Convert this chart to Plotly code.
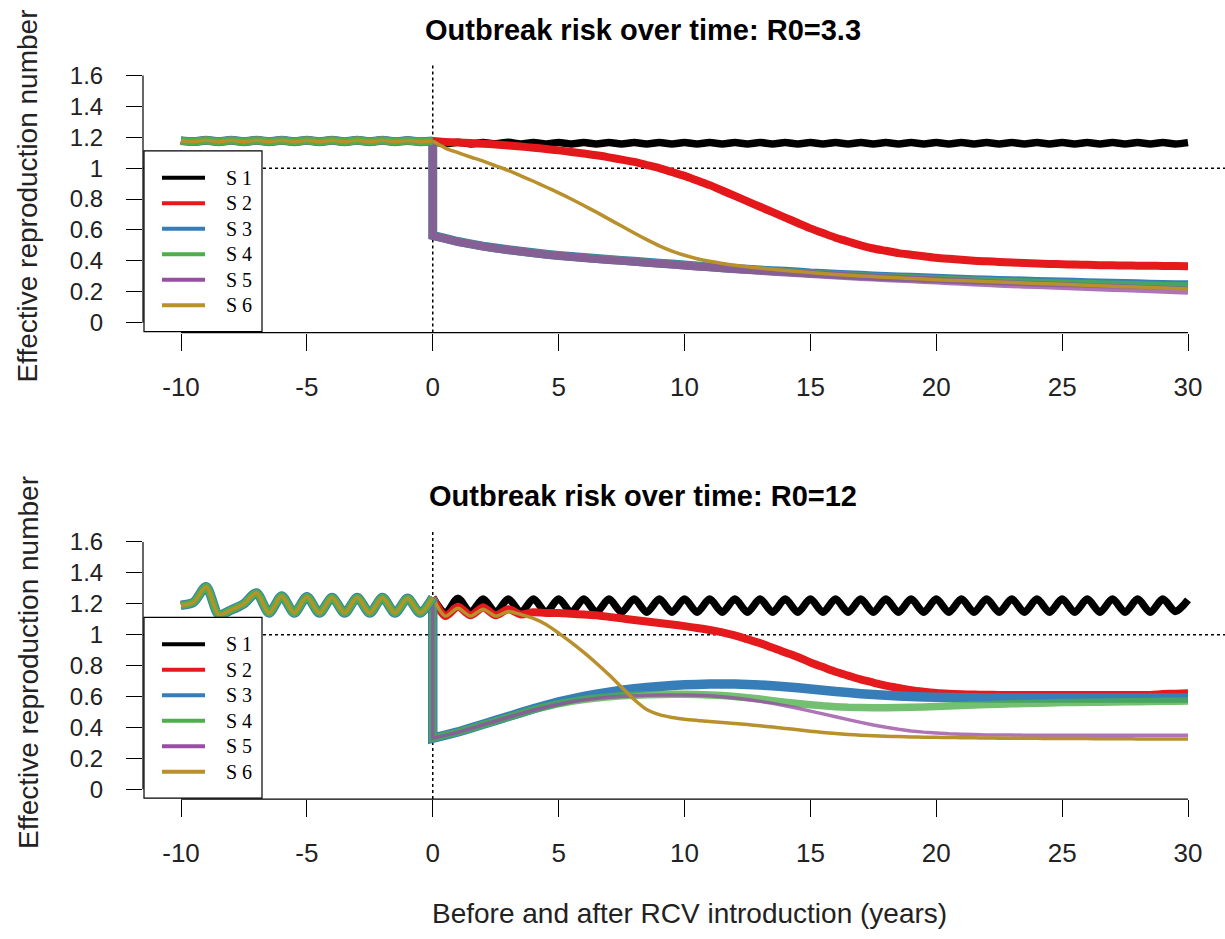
import plotly.graph_objects as go

# ---------------- data ----------------
T_PRE = [-10, -9.5, -9, -8.5, -8, -7.5, -7, -6.5, -6, -5.5, -5, -4.5, -4, -3.5, -3, -2.5, -2, -1.5, -1, -0.5, 0]
T_POST = [0.5, 1, 1.5, 2, 2.5, 3, 3.5, 4, 4.5, 5, 5.5, 6, 6.5, 7, 7.5, 8, 8.5, 9, 9.5, 10,
          10.5, 11, 11.5, 12, 12.5, 13, 13.5, 14, 14.5, 15, 15.5, 16, 16.5, 17, 17.5, 18, 18.5, 19, 19.5, 20,
          20.5, 21, 21.5, 22, 22.5, 23, 23.5, 24, 24.5, 25, 25.5, 26, 26.5, 27, 27.5, 28, 28.5, 29, 29.5, 30]

NAMES = ["S 1", "S 2", "S 3", "S 4", "S 5", "S 6"]
TITLES = ["Outbreak risk over time: R0=3.3", "Outbreak risk over time: R0=12"]
X_TICKS = [-10, -5, 0, 5, 10, 15, 20, 25, 30]
X_TICK_TEXT = ["-10", "-5", "0", "5", "10", "15", "20", "25", "30"]
Y_TICKS = [0, 0.2, 0.4, 0.6, 0.8, 1, 1.2, 1.4, 1.6]
Y_TICK_TEXT = ["0", "0.2", "0.4", "0.6", "0.8", "1", "1.2", "1.4", "1.6"]

# R0 = 3.3 panel
TOP_PRE = [1.178, 1.172, 1.180, 1.171, 1.180, 1.171, 1.180, 1.171, 1.180, 1.171, 1.180,
           1.171, 1.180, 1.171, 1.180, 1.171, 1.180, 1.171, 1.179, 1.171, 1.175]
TOP_S1 = [1.158, 1.167, 1.157, 1.166, 1.158, 1.167, 1.157, 1.166, 1.157, 1.166,
          1.157, 1.166, 1.157, 1.166, 1.157, 1.166, 1.157, 1.166, 1.157, 1.166,
          1.157, 1.166, 1.157, 1.166, 1.157, 1.166, 1.157, 1.166, 1.157, 1.166,
          1.157, 1.166, 1.157, 1.166, 1.157, 1.166, 1.157, 1.166, 1.157, 1.166,
          1.157, 1.166, 1.157, 1.166, 1.157, 1.166, 1.157, 1.166, 1.157, 1.166,
          1.157, 1.166, 1.157, 1.166, 1.157, 1.166, 1.157, 1.166, 1.157, 1.165]
TOP_S2 = [1.170, 1.166, 1.162, 1.158, 1.153, 1.147, 1.140, 1.132, 1.124, 1.115,
          1.105, 1.095, 1.083, 1.070, 1.055, 1.040, 1.020, 1.000, 0.975, 0.950,
          0.920, 0.890, 0.855, 0.820, 0.785, 0.750, 0.715, 0.680, 0.645, 0.610,
          0.580, 0.550, 0.525, 0.500, 0.480, 0.465, 0.450, 0.440, 0.430, 0.420,
          0.413, 0.407, 0.401, 0.397, 0.393, 0.389, 0.386, 0.383, 0.380, 0.378,
          0.376, 0.374, 0.372, 0.371, 0.370, 0.369, 0.368, 0.367, 0.366, 0.365]
TOP_DROP = [None, None, 0.565, 0.563, 0.562, None]
TOP_S3 = [0.545, 0.525, 0.510, 0.495, 0.483, 0.472, 0.462, 0.452, 0.443, 0.435,
          0.428, 0.421, 0.415, 0.409, 0.403, 0.397, 0.391, 0.385, 0.379, 0.373,
          0.367, 0.361, 0.355, 0.350, 0.345, 0.340, 0.336, 0.332, 0.328, 0.322,
          0.318, 0.314, 0.310, 0.306, 0.302, 0.299, 0.296, 0.293, 0.290, 0.287,
          0.284, 0.281, 0.278, 0.276, 0.273, 0.271, 0.269, 0.267, 0.265, 0.263,
          0.261, 0.259, 0.257, 0.255, 0.253, 0.251, 0.249, 0.247, 0.246, 0.245]
TOP_S4 = [0.544, 0.524, 0.509, 0.494, 0.482, 0.471, 0.461, 0.451, 0.442, 0.434,
          0.427, 0.420, 0.414, 0.408, 0.402, 0.396, 0.390, 0.384, 0.378, 0.372,
          0.366, 0.360, 0.354, 0.348, 0.343, 0.338, 0.333, 0.328, 0.323, 0.318,
          0.313, 0.309, 0.305, 0.301, 0.297, 0.293, 0.290, 0.287, 0.284, 0.281,
          0.278, 0.275, 0.272, 0.269, 0.266, 0.264, 0.262, 0.259, 0.257, 0.255,
          0.253, 0.251, 0.249, 0.247, 0.245, 0.243, 0.241, 0.239, 0.237, 0.235]
TOP_S5 = [0.543, 0.523, 0.508, 0.493, 0.481, 0.470, 0.460, 0.450, 0.441, 0.433,
          0.426, 0.419, 0.412, 0.406, 0.400, 0.394, 0.388, 0.382, 0.376, 0.370,
          0.364, 0.358, 0.352, 0.346, 0.340, 0.335, 0.330, 0.325, 0.320, 0.315,
          0.310, 0.305, 0.300, 0.296, 0.292, 0.288, 0.284, 0.280, 0.276, 0.272,
          0.268, 0.264, 0.260, 0.256, 0.252, 0.249, 0.246, 0.243, 0.240, 0.237,
          0.234, 0.231, 0.228, 0.225, 0.222, 0.219, 0.216, 0.213, 0.210, 0.207]
TOP_S6 = [1.130, 1.100, 1.072, 1.045, 1.015, 0.985, 0.950, 0.915, 0.878, 0.840,
          0.800, 0.758, 0.715, 0.670, 0.625, 0.580, 0.537, 0.497, 0.463, 0.436,
          0.414, 0.397, 0.383, 0.372, 0.362, 0.353, 0.345, 0.338, 0.331, 0.325,
          0.318, 0.312, 0.307, 0.302, 0.298, 0.294, 0.290, 0.286, 0.282, 0.278,
          0.275, 0.272, 0.269, 0.266, 0.263, 0.260, 0.257, 0.254, 0.251, 0.248,
          0.245, 0.242, 0.239, 0.236, 0.233, 0.230, 0.227, 0.224, 0.221, 0.218]

# R0 = 12 panel
BOT_PRE = [1.19, 1.21, 1.31, 1.13, 1.16, 1.20, 1.27, 1.14, 1.25, 1.14, 1.245,
           1.14, 1.24, 1.14, 1.24, 1.14, 1.24, 1.14, 1.235, 1.14, 1.24]
BOT_S1 = [1.14, 1.235, 1.145, 1.23, 1.145, 1.23, 1.145, 1.23, 1.145, 1.23,
          1.145, 1.23, 1.145, 1.23, 1.145, 1.23, 1.145, 1.23, 1.145, 1.23,
          1.145, 1.23, 1.145, 1.23, 1.145, 1.23, 1.145, 1.23, 1.145, 1.23,
          1.145, 1.23, 1.145, 1.23, 1.145, 1.23, 1.145, 1.23, 1.145, 1.23,
          1.145, 1.23, 1.145, 1.23, 1.145, 1.23, 1.145, 1.23, 1.145, 1.23,
          1.145, 1.23, 1.145, 1.23, 1.145, 1.23, 1.145, 1.23, 1.15, 1.225]
BOT_S2 = [1.12, 1.18, 1.125, 1.175, 1.125, 1.165, 1.13, 1.145, 1.14, 1.14,
          1.135, 1.13, 1.125, 1.115, 1.105, 1.095, 1.085, 1.075, 1.065, 1.055,
          1.043, 1.03, 1.015, 0.995, 0.97, 0.945, 0.915, 0.885, 0.855, 0.82,
          0.79, 0.76, 0.735, 0.71, 0.69, 0.67, 0.655, 0.64, 0.63, 0.622,
          0.617, 0.614, 0.612, 0.611, 0.61, 0.61, 0.61, 0.61, 0.61, 0.61,
          0.61, 0.61, 0.61, 0.61, 0.61, 0.61, 0.61, 0.615, 0.618, 0.62]
BOT_DROP = [None, None, 0.33, 0.33, 0.33, None]
BOT_S3 = [0.35, 0.37, 0.395, 0.42, 0.445, 0.47, 0.495, 0.52, 0.543, 0.565,
          0.583, 0.6, 0.615, 0.628, 0.64, 0.65, 0.658, 0.665, 0.67, 0.675,
          0.678, 0.68, 0.681, 0.68, 0.678, 0.674, 0.669, 0.663, 0.656, 0.648,
          0.64, 0.632, 0.625, 0.618, 0.612, 0.607, 0.603, 0.6, 0.597, 0.595,
          0.593, 0.592, 0.591, 0.59, 0.59, 0.59, 0.59, 0.59, 0.59, 0.59,
          0.59, 0.59, 0.59, 0.59, 0.59, 0.59, 0.59, 0.59, 0.59, 0.59]
BOT_S4 = [0.349, 0.369, 0.393, 0.418, 0.442, 0.466, 0.49, 0.515, 0.535, 0.553,
          0.568, 0.58, 0.59, 0.598, 0.604, 0.608, 0.611, 0.613, 0.614, 0.614,
          0.613, 0.61, 0.606, 0.6, 0.592, 0.583, 0.573, 0.563, 0.554, 0.546,
          0.539, 0.534, 0.53, 0.528, 0.527, 0.527, 0.528, 0.53, 0.532, 0.535,
          0.538, 0.541, 0.544, 0.547, 0.55, 0.552, 0.554, 0.556, 0.558, 0.56,
          0.561, 0.562, 0.563, 0.564, 0.565, 0.566, 0.567, 0.568, 0.569, 0.57]
BOT_S5 = [0.348, 0.368, 0.392, 0.417, 0.441, 0.465, 0.489, 0.512, 0.532, 0.55,
          0.565, 0.577, 0.587, 0.595, 0.6, 0.604, 0.607, 0.609, 0.61, 0.61,
          0.608, 0.604, 0.598, 0.59, 0.58, 0.568, 0.555, 0.54, 0.523, 0.505,
          0.487, 0.468, 0.45, 0.432, 0.415, 0.4, 0.387, 0.377, 0.369, 0.363,
          0.358, 0.355, 0.353, 0.351, 0.35, 0.35, 0.349, 0.349, 0.349, 0.349,
          0.349, 0.348, 0.348, 0.348, 0.348, 0.348, 0.348, 0.348, 0.348, 0.348]
BOT_S6 = [1.12, 1.17, 1.12, 1.165, 1.12, 1.15, 1.13, 1.105, 1.065, 1.01,
          0.95, 0.885, 0.815, 0.74, 0.66, 0.58, 0.515, 0.482, 0.464, 0.453,
          0.445, 0.438, 0.432, 0.425, 0.418, 0.41, 0.402, 0.393, 0.384, 0.375,
          0.367, 0.36, 0.354, 0.349, 0.345, 0.342, 0.34, 0.338, 0.336, 0.335,
          0.334, 0.333, 0.332, 0.331, 0.33, 0.33, 0.329, 0.329, 0.328, 0.328,
          0.327, 0.327, 0.326, 0.326, 0.326, 0.325, 0.325, 0.325, 0.325, 0.325]

# ---------------- styles ----------------
COLORS = ["#000000", "#E41A1C", "#377EB8", "#4DAF4A", "#984EA3", "#B8902C"]
TOP_WIDTHS = [7.5, 8, 9, 8, 8, 3.5]
BOT_WIDTHS = [7.5, 8, 9.5, 7.5, 3.5, 3.5]
POST_OPACITY = [1, 1, 1, 0.78, 0.78, 1]
PRE_ORDER = [0, 1, 2, 4, 3, 5]
W, H = 1225, 939
SANS = "Liberation Sans, Arial, sans-serif"
SERIF = "Liberation Serif, Times New Roman, serif"

PANELS = [
    dict(pre=TOP_PRE, posts=[TOP_S1, TOP_S2, TOP_S3, TOP_S4, TOP_S5, TOP_S6], drops=TOP_DROP,
         widths=TOP_WIDTHS, title=TITLES[0]),
    dict(pre=BOT_PRE, posts=[BOT_S1, BOT_S2, BOT_S3, BOT_S4, BOT_S5, BOT_S6], drops=BOT_DROP,
         widths=BOT_WIDTHS, title=TITLES[1]),
]

for p in PANELS:
    assert len(p["pre"]) == len(T_PRE)
    for s in p["posts"]:
        assert len(s) == len(T_POST), len(s)


def px(x):
    return x / W


def py(y):
    return 1 - y / H


X_LEFT_PX = 143
X_PER_UNIT = (1188 - 181) / 40.0
X_RANGE = [-10 - (181 - X_LEFT_PX) / X_PER_UNIT, -10 + (W - 181) / X_PER_UNIT]

fig = go.Figure()
shapes = []
annotations = []

for i, p in enumerate(PANELS):
    xa = "x" if i == 0 else "x2"
    ya = "y" if i == 0 else "y2"
    # after introduction (starts at t=0, including the drop for S3-S5)
    for k in range(6):
        xs = [T_PRE[-1]]
        ys = [p["pre"][-1]]
        has_drop = p["drops"][k] is not None
        if has_drop:
            xs.append(0)
            ys.append(p["drops"][k])
        xs += T_POST
        ys += p["posts"][k]
        fig.add_trace(go.Scatter(x=xs, y=ys, mode="lines", name=NAMES[k], xaxis=xa, yaxis=ya,
                                 opacity=POST_OPACITY[k],
                                 line=dict(color=COLORS[k], width=p["widths"][k], simplify=False,
                                           shape="linear" if has_drop else "spline", smoothing=0.8),
                                 showlegend=False, hoverinfo="skip"))
    # before introduction (identical for all scenarios)
    for k in PRE_ORDER:
        fig.add_trace(go.Scatter(x=T_PRE, y=p["pre"], mode="lines", name=NAMES[k], xaxis=xa, yaxis=ya,
                                 line=dict(color=COLORS[k], width=p["widths"][k], simplify=False,
                                           shape="spline", smoothing=0.8),
                                 showlegend=False, hoverinfo="skip"))
    # reference lines
    shapes.append(dict(type="line", xref=xa, yref=f"{ya} domain", x0=0, x1=0, y0=0, y1=1,
                       line=dict(color="black", width=1.5, dash="dot"), layer="below"))
    shapes.append(dict(type="line", xref=f"{xa} domain", yref=ya, x0=0, x1=1, y0=1, y1=1,
                       line=dict(color="black", width=1.5, dash="dot"), layer="below"))
    # axis lines (R style: span first to last tick)
    shapes.append(dict(type="line", xref=xa, yref=f"{ya} domain", x0=X_TICKS[0], x1=X_TICKS[-1], y0=0, y1=0,
                       line=dict(color="black", width=1.2), layer="above"))
    shapes.append(dict(type="line", xref=f"{xa} domain", yref=ya, x0=0, x1=0, y0=Y_TICKS[0], y1=Y_TICKS[-1],
                       line=dict(color="black", width=1.2), layer="above"))
    # legend box
    off = 0 if i == 0 else 470
    bx0, bx1, by0, by1 = 144, 262, 148 + off, 330 + off
    shapes.append(dict(type="rect", xref="paper", yref="paper", x0=px(bx0), x1=px(bx1), y0=py(by1), y1=py(by0),
                       fillcolor="white", line=dict(color="black", width=1.2), layer="above"))
    for k in range(6):
        yy = 175 + off + k * 25.7
        shapes.append(dict(type="line", xref="paper", yref="paper", x0=px(162), x1=px(205), y0=py(yy), y1=py(yy),
                           line=dict(color=COLORS[k], width=4), layer="above"))
        annotations.append(dict(text=NAMES[k], xref="paper", yref="paper", x=px(224), y=py(yy),
                                xanchor="left", yanchor="middle", showarrow=False,
                                font=dict(family=SERIF, size=20, color="black")))
    # titles
    annotations.append(dict(text="<b>" + p["title"] + "</b>", xref="paper", yref="paper", x=px(643), y=py(26 + off),
                            xanchor="center", yanchor="middle", showarrow=False,
                            font=dict(family=SANS, size=29, color="black")))
    annotations.append(dict(text="Effective reproduction number", xref="paper", yref="paper", x=px(28),
                            y=py(194 + off), xanchor="center", yanchor="middle", textangle=-90, showarrow=False,
                            font=dict(family=SANS, size=28, color="#222222")))

annotations.append(dict(text="Before and after RCV introduction (years)", xref="paper", yref="paper",
                        x=px(689), y=py(916), xanchor="center", yanchor="middle", showarrow=False,
                        font=dict(family=SANS, size=28, color="#222222")))

xaxis_common = dict(range=X_RANGE, domain=[px(X_LEFT_PX), 1.0], tickmode="array", tickvals=X_TICKS,
                    ticktext=X_TICK_TEXT,
                    ticks="outside", ticklen=17, tickwidth=1.2, tickcolor="black", showgrid=False,
                    zeroline=False, showline=False, ticklabelstandoff=14,
                    tickfont=dict(family=SANS, size=26, color="#222222"), fixedrange=True)
yaxis_common = dict(range=[-0.064, 1.664], tickmode="array", tickvals=Y_TICKS, ticktext=Y_TICK_TEXT,
                    ticks="outside", ticklen=16, tickwidth=1.2, tickcolor="black", showgrid=False,
                    zeroline=False, showline=False, ticklabelstandoff=18,
                    tickfont=dict(family=SANS, size=24, color="#222222"), fixedrange=True)

fig.update_layout(
    width=W, height=H, margin=dict(l=0, r=0, t=0, b=0),
    paper_bgcolor="white", plot_bgcolor="white", showlegend=False,
    xaxis=dict(xaxis_common, anchor="y"),
    xaxis2=dict(xaxis_common, anchor="y2"),
    yaxis=dict(yaxis_common, anchor="x", domain=[py(331), py(62)]),
    yaxis2=dict(yaxis_common, anchor="x2", domain=[py(801), py(532)]),
    shapes=shapes, annotations=annotations,
)

fig.write_html("out.html")
